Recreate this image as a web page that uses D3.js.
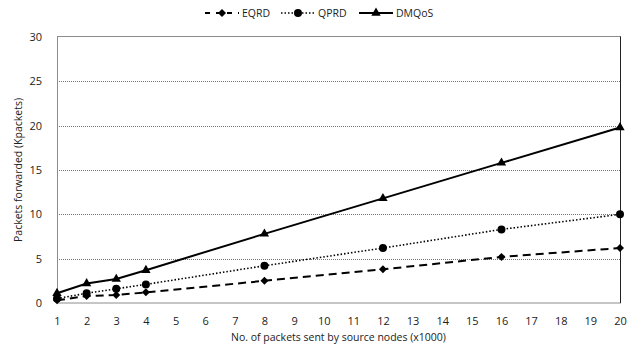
<!DOCTYPE html>
<html>
<head>
<meta charset="utf-8">
<script src="https://cdn.jsdelivr.net/npm/d3@7"></script>
<style>
body { margin: 0; background: #fff; }
text { font-family: "Open Sans", "Liberation Sans", sans-serif; fill: #222; }
</style>
</head>
<body>
<script>
// values
var xTicks = d3.range(1, 21);
var yTicks = [0, 5, 10, 15, 20, 25, 30];
var sentPackets = [1, 2, 3, 4, 8, 12, 16, 20];
var eqrd = [0.3, 0.8, 0.9, 1.2, 2.5, 3.8, 5.2, 6.2];
var qprd = [0.5, 1.1, 1.6, 2.1, 4.2, 6.2, 8.3, 10.0];
var dmqos = [1.1, 2.2, 2.7, 3.7, 7.8, 11.8, 15.8, 19.8];
var seriesNames = ["EQRD", "QPRD", "DMQoS"];

var w = 639,
    h = 360,
    pLeft = 57,
    pRight = 620,
    pTop = 37,
    pBottom = 303;

var svg = d3.select("body")
    .append("svg")
    .attr("width", w)
    .attr("height", h);

var x = d3.scaleLinear().domain([1, 20]).range([pLeft, pRight]);
var y = d3.scaleLinear().domain([0, 30]).range([pBottom, pTop]);

// grid lines
svg.selectAll("line.grid")
    .data(yTicks.filter(function(d) { return d > 0 && d < 30; }))
    .enter()
    .append("line")
    .attr("class", "grid")
    .attr("x1", pLeft)
    .attr("x2", pRight)
    .attr("y1", function(d) { return Math.round(y(d)) + 0.5; })
    .attr("y2", function(d) { return Math.round(y(d)) + 0.5; })
    .style("stroke", "#4a7cc4")
    .style("stroke-width", 1)
    .style("stroke-dasharray", "1,1");

// plot border
svg.append("rect")
    .attr("x", pLeft + 0.5)
    .attr("y", pTop - 0.5)
    .attr("width", pRight - pLeft)
    .attr("height", pBottom - pTop + 0.5)
    .style("fill", "none")
    .style("stroke", "#8c8c8c");
svg.append("line")
    .attr("x1", pRight + 0.5).attr("x2", pRight + 0.5)
    .attr("y1", pTop - 0.5).attr("y2", pBottom)
    .style("stroke", "#222");

// axes
var xAxis = svg.append("g")
    .attr("transform", "translate(0," + pBottom + ")")
    .call(d3.axisBottom(x).tickValues(xTicks).tickSize(0).tickPadding(14).tickFormat(d3.format("d")));
var yAxis = svg.append("g")
    .attr("transform", "translate(" + pLeft + ",0)")
    .call(d3.axisLeft(y).tickValues(yTicks).tickSize(0).tickPadding(15));
[xAxis, yAxis].forEach(function(a) {
    a.select(".domain").remove();
    a.selectAll("text").style("font-size", "11px").style("font-family", "\"Open Sans\", sans-serif").attr("fill", "#222");
});

svg.append("text")
    .attr("x", (pLeft + pRight) / 2)
    .attr("y", 341)
    .attr("text-anchor", "middle")
    .style("font-size", "10.5px")
    .text("No. of packets sent by source nodes (x1000)");

svg.append("text")
    .attr("transform", "translate(22," + ((pTop + pBottom) / 2) + ") rotate(-90)")
    .attr("text-anchor", "middle")
    .style("font-size", "10.5px")
    .text("Packets forwarded (Kpackets)");

// squarish diamond like the spreadsheet marker
var squareDiamond = {
    draw: function(ctx, size) {
        var r = Math.sqrt(size / 2);
        ctx.moveTo(0, -r);
        ctx.lineTo(r, 0);
        ctx.lineTo(0, r);
        ctx.lineTo(-r, 0);
        ctx.closePath();
    }
};

// series
var series = [
    { name: seriesNames[0], values: eqrd, dash: "8,5", width: 2, symbol: squareDiamond, size: 32 },
    { name: seriesNames[1], values: qprd, dash: "1.5,2", width: 1.6, symbol: d3.symbolCircle, size: 50 },
    { name: seriesNames[2], values: dmqos, dash: null, width: 2, symbol: d3.symbolTriangle, size: 38 }
];

var line = d3.line()
    .x(function(d) { return x(d[0]); })
    .y(function(d) { return y(d[1]); });

series.forEach(function(s) {
    var pts = sentPackets.map(function(v, i) { return [v, s.values[i]]; });
    svg.append("path")
        .datum(pts)
        .attr("d", line)
        .style("fill", "none")
        .style("stroke", "#000")
        .style("stroke-width", s.width)
        .style("stroke-dasharray", s.dash);
    svg.selectAll(null)
        .data(pts)
        .enter()
        .append("path")
        .attr("d", d3.symbol().type(s.symbol).size(s.size))
        .attr("transform", function(d) { return "translate(" + x(d[0]) + "," + y(d[1]) + ")"; })
        .style("fill", "#000");
});

// legend
var legendX = [205, 281, 359];
series.forEach(function(s, i) {
    var g = svg.append("g").attr("transform", "translate(" + legendX[i] + ",13)");
    g.append("line")
        .attr("x1", 0).attr("x2", 34)
        .style("stroke", "#000")
        .style("stroke-width", s.width)
        .style("stroke-dasharray", s.dash ? (i === 0 ? "5,6" : "1.5,2") : null);
    g.append("path")
        .attr("d", d3.symbol().type(s.symbol).size(s.size))
        .attr("transform", "translate(17,0)")
        .style("fill", "#000");
    g.append("text")
        .attr("x", 37)
        .attr("y", 4)
        .style("font-size", "10.5px")
        .text(s.name);
});
</script>
</body>
</html>
